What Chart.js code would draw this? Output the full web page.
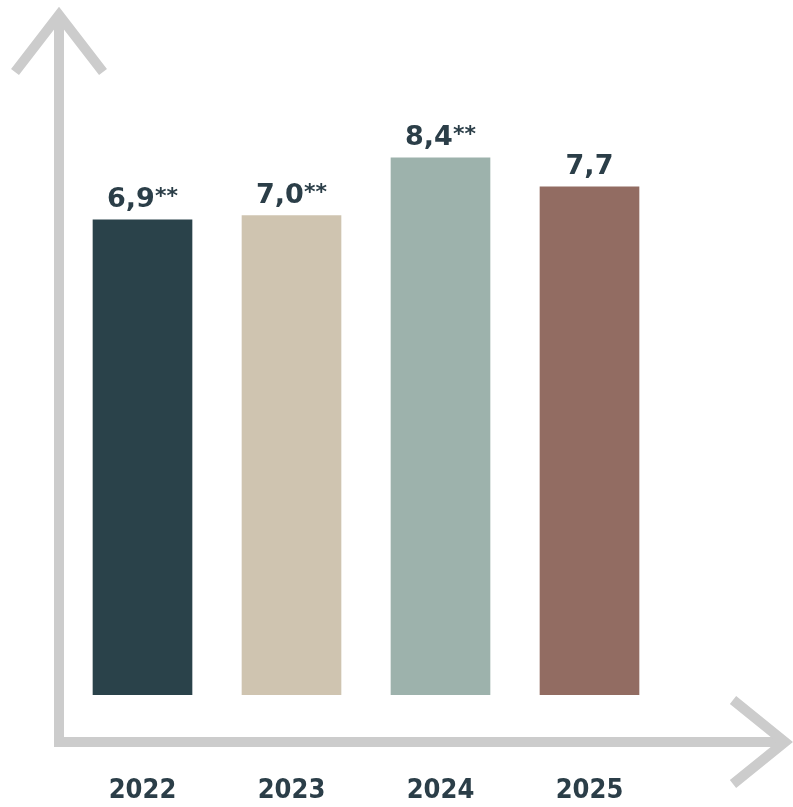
<!DOCTYPE html>
<html>
<head>
<meta charset="utf-8">
<script src="https://cdn.jsdelivr.net/npm/chart.js@4.4.1/dist/chart.umd.min.js"></script>
<style>
  html, body { margin: 0; padding: 0; background: #ffffff; }
  #wrap { width: 793px; height: 807px; }
</style>
</head>
<body>
<div id="wrap"><canvas id="barCanvas"></canvas></div>
<script>
(function() {
  'use strict';

  // data
  var years = ['2022', '2023', '2024', '2025'];
  var values = [6.9, 7.0, 8.4, 7.7];
  var notes = ['**', '**', '**', ''];
  var barColors = ['#2a424a', '#cfc4b0', '#9db2ac', '#926c62'];

  // value axis range, bars start from the floor
  var axisFloor = -4.6;
  var axisTop = 9.8;

  var textColor = '#2b3e48';
  var axisGrey = '#cccccc';

  // grey arrow axes around the plot
  var arrowAxes = {
    id: 'arrowAxes',
    beforeDatasetsDraw: function(chart) {
      var ctx = chart.ctx;
      var area = chart.chartArea;
      var vx = area.left - 9;
      var hy = area.bottom + 47;
      var topTip = area.top - 85;
      var rightTip = area.right + 121;

      ctx.save();
      ctx.strokeStyle = axisGrey;
      ctx.lineWidth = 10;
      ctx.lineJoin = 'miter';
      ctx.lineCap = 'butt';

      // shafts
      ctx.beginPath();
      ctx.moveTo(vx, topTip);
      ctx.lineTo(vx, hy);
      ctx.lineTo(rightTip, hy);
      ctx.stroke();

      // up arrow head
      ctx.beginPath();
      ctx.moveTo(vx - 44, topTip + 57);
      ctx.lineTo(vx, topTip);
      ctx.lineTo(vx + 44, topTip + 57);
      ctx.stroke();

      // right arrow head
      ctx.beginPath();
      ctx.moveTo(rightTip - 52, hy - 42);
      ctx.lineTo(rightTip, hy);
      ctx.lineTo(rightTip - 52, hy + 42);
      ctx.stroke();
      ctx.restore();
    }
  };

  // value labels above each bar, footnote stars a bit smaller
  var valueLabels = {
    id: 'valueLabels',
    afterDatasetsDraw: function(chart) {
      var ctx = chart.ctx;
      var meta = chart.getDatasetMeta(0);
      var numFont = 'bold 27px "DejaVu Sans", sans-serif';
      var noteFont = 'bold 22px "DejaVu Sans", sans-serif';

      ctx.save();
      ctx.fillStyle = textColor;
      ctx.textBaseline = 'alphabetic';
      ctx.textAlign = 'left';
      meta.data.forEach(function(bar, i) {
        var num = values[i].toFixed(1).replace('.', ',');
        ctx.font = numFont;
        var w1 = ctx.measureText(num).width;
        ctx.font = noteFont;
        var w2 = notes[i] ? ctx.measureText(notes[i]).width : 0;
        var x0 = bar.x - (w1 + w2) / 2;
        var y = bar.y - 13;
        ctx.font = numFont;
        ctx.fillText(num, x0, y);
        if (notes[i]) {
          ctx.font = noteFont;
          ctx.fillText(notes[i], x0 + w1, y - 4);
        }
      });
      ctx.restore();
    }
  };

  var ctx = document.getElementById('barCanvas').getContext('2d');
  var chart = new Chart(ctx, {
    type: 'bar',
    data: {
      labels: years,
      datasets: [{
        data: values,
        base: axisFloor,
        backgroundColor: barColors,
        borderWidth: 0,
        barThickness: 99
      }]
    },
    options: {
      responsive: true,
      maintainAspectRatio: false,
      animation: false,
      layout: {
        padding: { left: 68, right: 129, top: 100, bottom: 0 }
      },
      plugins: {
        legend: { display: false },
        tooltip: { enabled: false }
      },
      scales: {
        x: {
          grid: { display: false, drawTicks: false },
          border: { display: false },
          ticks: {
            color: textColor,
            padding: 80,
            font: { family: '"DejaVu Sans Condensed", "Liberation Sans", sans-serif', size: 27, weight: 'bold' }
          },
          afterFit: function(scale) {
            scale.height = 112;
          }
        },
        y: {
          display: false,
          min: axisFloor,
          max: axisTop
        }
      }
    },
    plugins: [arrowAxes, valueLabels]
  });
})();
</script>
</body>
</html>
